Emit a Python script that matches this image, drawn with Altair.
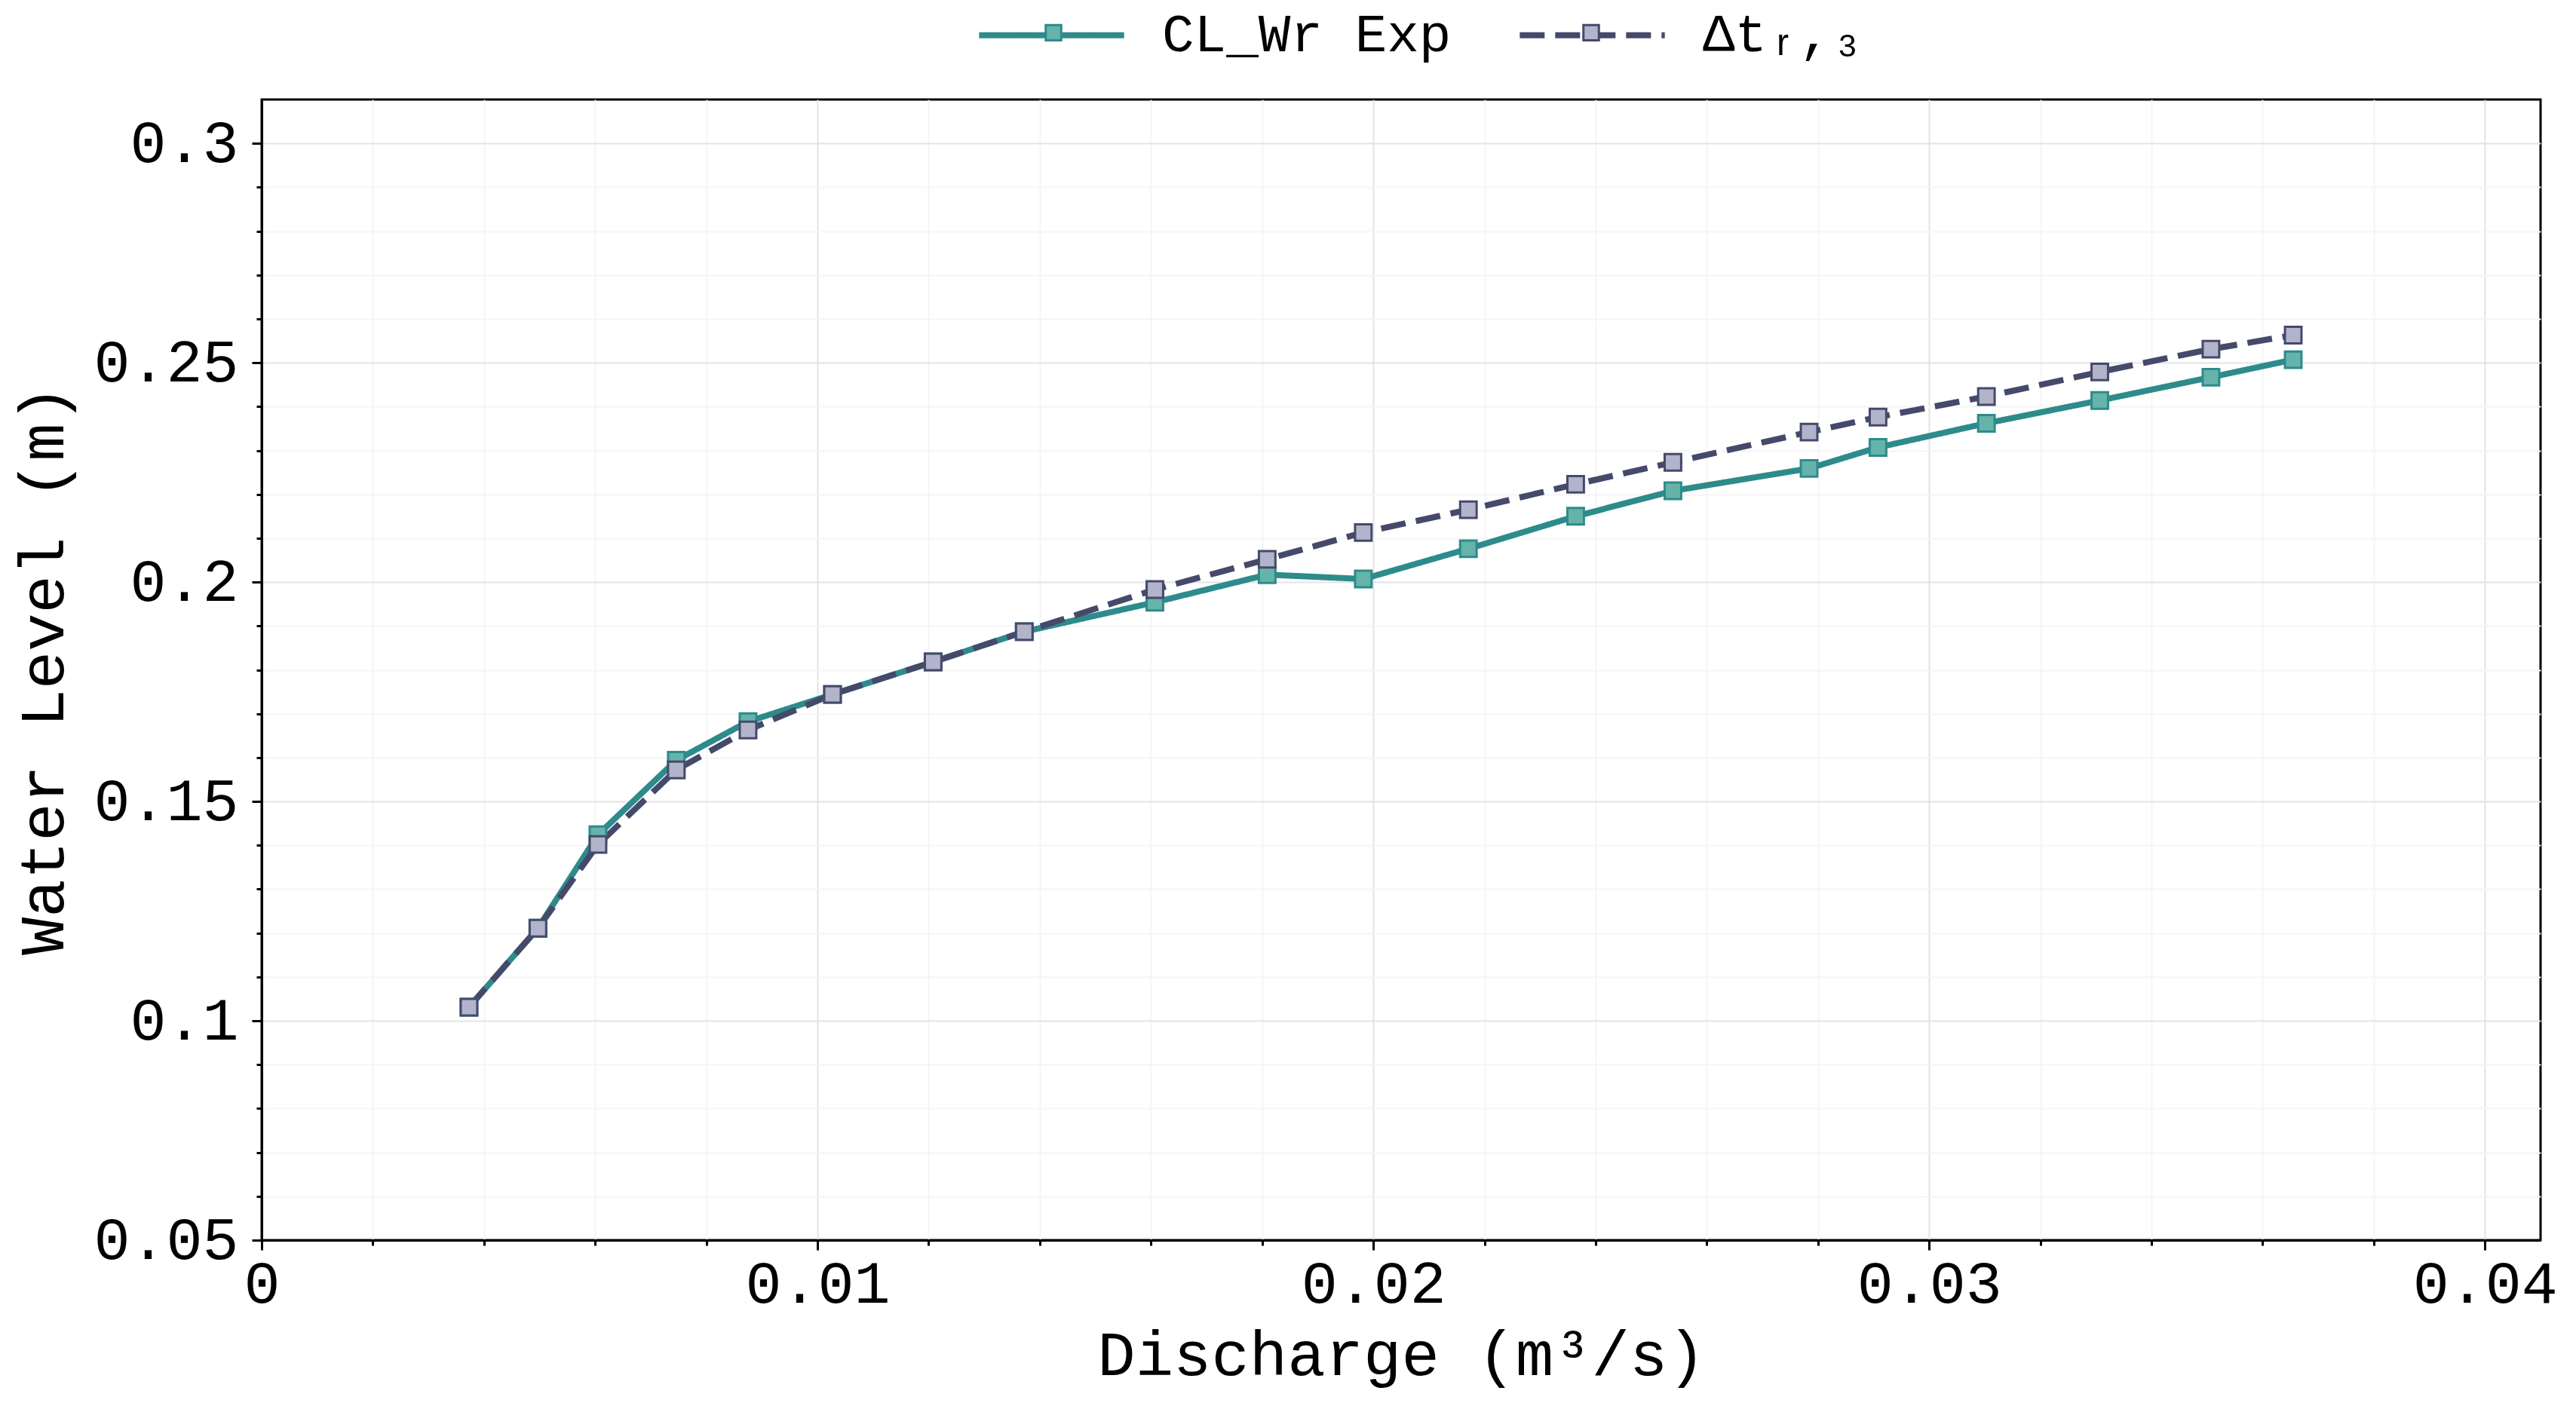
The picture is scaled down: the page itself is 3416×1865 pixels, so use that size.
import altair as alt
import pandas as pd

# values
discharge = [0.00373, 0.00497, 0.00605, 0.00746, 0.00875, 0.01027, 0.01208, 0.01372,
             0.01607, 0.01809, 0.01982, 0.02171, 0.02364, 0.02539, 0.02784, 0.02908,
             0.03103, 0.03307, 0.03507, 0.03655]
level_exp = [0.1031, 0.1211, 0.1424, 0.1594, 0.1682, 0.1744, 0.1818, 0.1887,
             0.1954, 0.2017, 0.2007, 0.2076, 0.2150, 0.2208, 0.2259, 0.2307,
             0.2362, 0.2414, 0.2467, 0.2507]
level_dt3 = [0.1031, 0.1211, 0.1402, 0.1572, 0.1663, 0.1744, 0.1818, 0.1887,
             0.1983, 0.2052, 0.2113, 0.2165, 0.2223, 0.2273, 0.2342, 0.2376,
             0.2423, 0.2479, 0.2531, 0.2563]

series_names = ["CL_Wr Exp", "Δtᵣ,₃"]
series_keys = ["exp", "dt3"]
line_colors = ["#2e8b8b", "#454a6b"]
marker_fills = ["#66b3ab", "#b2b4cb"]

x_ticks = [0, 0.002, 0.004, 0.006, 0.008, 0.01, 0.012, 0.014, 0.016, 0.018, 0.02,
           0.022, 0.024, 0.026, 0.028, 0.03, 0.032, 0.034, 0.036, 0.038, 0.04]
y_ticks = [0.05, 0.06, 0.07, 0.08, 0.09, 0.1, 0.11, 0.12, 0.13, 0.14, 0.15, 0.16,
           0.17, 0.18, 0.19, 0.2, 0.21, 0.22, 0.23, 0.24, 0.25, 0.26, 0.27, 0.28,
           0.29, 0.3]

font = "Liberation Mono"

rows = []
for name, key, levels in zip(series_names, series_keys, [level_exp, level_dt3]):
    for q, h in zip(discharge, levels):
        rows.append({"discharge": q, "level": h, "series": name, "key": key})
data = pd.DataFrame(rows)

x_major = "abs(datum.value * 100 - round(datum.value * 100)) < 1e-6"
y_major = "abs(datum.value * 20 - round(datum.value * 20)) < 1e-6"


def axis(values, major, title, title_padding, label_padding):
    return alt.Axis(
        values=values,
        labelExpr=f"{major} ? format(datum.value, '.2~f') : ''",
        labelFont=font,
        labelFontSize=80,
        labelColor="black",
        labelPadding=label_padding,
        labelFlush=False,
        labelOverlap=False,
        labelLimit=0,
        tickColor="black",
        tickWidth=3,
        tickSize={"condition": {"test": major, "value": 13}, "value": 7},
        domainColor="black",
        domainWidth=3,
        gridColor={"condition": {"test": major, "value": "#e3e3e3"}, "value": "#f5f5f5"},
        gridWidth=2,
        title=title,
        titleFont=font,
        titleFontSize=84,
        titleFontWeight="normal",
        titleColor="black",
        titlePadding=title_padding,
        titleLimit=0,
    )


x_enc = alt.X(
    "discharge:Q",
    scale=alt.Scale(domain=[0, 0.041], nice=False, zero=False),
    axis=axis(x_ticks, x_major, "Discharge (m³/s)", 14, 6),
)
y_enc = alt.Y(
    "level:Q",
    scale=alt.Scale(domain=[0.05, 0.31], nice=False, zero=False),
    axis=axis(y_ticks, y_major, "Water Level (m)", 46, 18),
)

legend_x = 947
line_legend = alt.Legend(
    title=None,
    orient="none",
    legendX=legend_x,
    legendY=-186,
    direction="horizontal",
    symbolType="stroke",
    symbolSize=37000,
    symbolStrokeWidth=8,
    labelFont=font,
    labelFontSize=71,
    labelColor="black",
    labelLimit=0,
    labelOffset=46,
    columnPadding=74,
)

# squares drawn over the middle of each legend line
marker_legend = alt.Legend(
    title=None,
    orient="none",
    legendX=legend_x + 91,
    legendY=-101,
    direction="horizontal",
    symbolType="square",
    symbolSize=420,
    symbolStrokeWidth=3,
    labelExpr="''",
    labelOffset=0,
    columnPadding=679,
)

lines = (
    alt.Chart(data)
    .mark_line(strokeWidth=8)
    .encode(
        x=x_enc,
        y=y_enc,
        color=alt.Color(
            "series:N",
            scale=alt.Scale(domain=series_names, range=line_colors),
            legend=line_legend,
        ),
        strokeDash=alt.StrokeDash(
            "series:N",
            scale=alt.Scale(domain=series_names, range=[[1, 0], [33, 14]]),
            legend=line_legend,
        ),
        detail="series:N",
    )
)

points = (
    alt.Chart(data)
    .mark_point(shape="square", size=480, filled=True, opacity=1, strokeWidth=3)
    .encode(
        x=x_enc,
        y=y_enc,
        fill=alt.Fill(
            "key:N",
            scale=alt.Scale(domain=series_keys, range=marker_fills),
            legend=marker_legend,
        ),
        stroke=alt.Stroke(
            "key:N",
            scale=alt.Scale(domain=series_keys, range=line_colors),
            legend=marker_legend,
        ),
    )
)

chart = (
    alt.layer(lines, points)
    .properties(
        width=3022,
        height=1513,
        autosize=alt.AutoSizeParams(type="none"),
        padding={"left": 339, "top": 124, "right": 30, "bottom": 212},
        background="white",
    )
    .configure_view(stroke="black", strokeWidth=3)
)

chart.save("out.html", embed_options={"renderer": "svg", "actions": False})
